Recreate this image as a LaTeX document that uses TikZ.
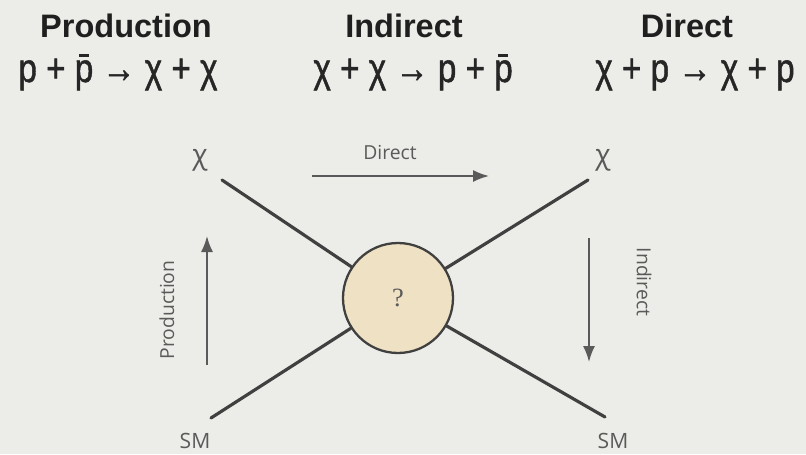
\documentclass[tikz,border=0pt]{standalone}
\usepackage{fontspec}
\setmainfont{Liberation Sans}
\newfontfamily\handfont{Open Sans}
\newfontfamily\eqfont[FakeBold=1.3]{Liberation Sans}
\newfontfamily\qfont{Liberation Serif}
\usetikzlibrary{positioning,arrows.meta}

\definecolor{slide}{RGB}{236,236,232}
\definecolor{blobfill}{RGB}{239,225,195}
\definecolor{ink}{RGB}{64,64,64}
\definecolor{pencil}{RGB}{90,90,90}

\tikzset{
    title/.style={font=\bfseries\fontsize{18.5}{20}\selectfont, text=black!88, anchor=base},
    reaction/.style={font=\eqfont\fontsize{19.5}{21}\selectfont, text=black!85, anchor=base},
    hand/.style={font=\handfont\fontsize{11}{12}\selectfont, text=pencil},
    leg/.style={draw=ink, line width=1.8pt, line cap=round},
    flow/.style={draw=pencil, line width=1pt, -{Latex[length=3.2mm,width=2.4mm]}}
}

\newcommand{\pbar}{\rlap{p}\raisebox{0.62em}{\makebox[0.55em]{\rule{0.3em}{0.07em}}}}
\newcommand{\tall}[1]{\scalebox{0.97}[1.18]{#1}}

\begin{document}
\begin{tikzpicture}[x=0.02cm, y=-0.02cm]
        \fill[slide] (0,0) rectangle (806,454);
        \useasboundingbox (0,0) rectangle (806,454);

        % headings
        \node[title] (tProd) at (126,37) {Production};
        \node[title] (tInd)  at (404,37) {Indirect};
        \node[title] (tDir)  at (687,37) {Direct};

        % reactions
        \node[reaction] (rProd) at (118,82) {\tall{p + \pbar\ → χ + χ}};
        \node[reaction] (rInd)  at (413,82) {\tall{χ + χ → p + \pbar}};
        \node[reaction] (rDir)  at (695,82) {\tall{χ + p → χ + p}};

        % the blob
        \node[circle, draw=ink, line width=1.3pt, fill=blobfill, minimum size=110*0.02cm,
              font=\qfont\fontsize{15}{15}\selectfont, text=pencil] (blob) at (398,298) {?};

        % legs
        \coordinate (legTL) at (222,180);
        \coordinate (legTR) at (588,180);
        \coordinate (legBL) at (211,418);
        \coordinate (legBR) at (605,417);
        \draw[leg] (legTL) -- (blob);
        \draw[leg] (legTR) -- (blob);
        \draw[leg] (legBL) -- (blob);
        \draw[leg] (legBR) -- (blob);

        % particle labels
        \node[hand, font=\handfont\fontsize{16}{16}\selectfont] (chiL) at (200,160) {χ};
        \node[hand, font=\handfont\fontsize{16}{16}\selectfont] (chiR) at (603,160) {χ};
        \node[hand, font=\handfont\fontsize{12}{12}\selectfont] (smL) at (195,441) {SM};
        \node[hand, font=\handfont\fontsize{12}{12}\selectfont] (smR) at (613,441) {SM};

        % channels
        \coordinate (dirA) at (312,176);
        \coordinate (dirB) at (489,176);
        \draw[flow] (dirA) -- (dirB);
        \node[hand] (lDir) at (390,152) {Direct};

        \coordinate (prodA) at (207,365);
        \coordinate (prodB) at (207,236);
        \draw[flow] (prodA) -- (prodB);
        \node[hand, rotate=90] (lProd) at (167,310) {Production};

        \coordinate (indA) at (589,238);
        \coordinate (indB) at (589,362);
        \draw[flow] (indA) -- (indB);
        \node[hand, rotate=-90] (lInd) at (644,282) {Indirect};
    \end{tikzpicture}
\end{document}
